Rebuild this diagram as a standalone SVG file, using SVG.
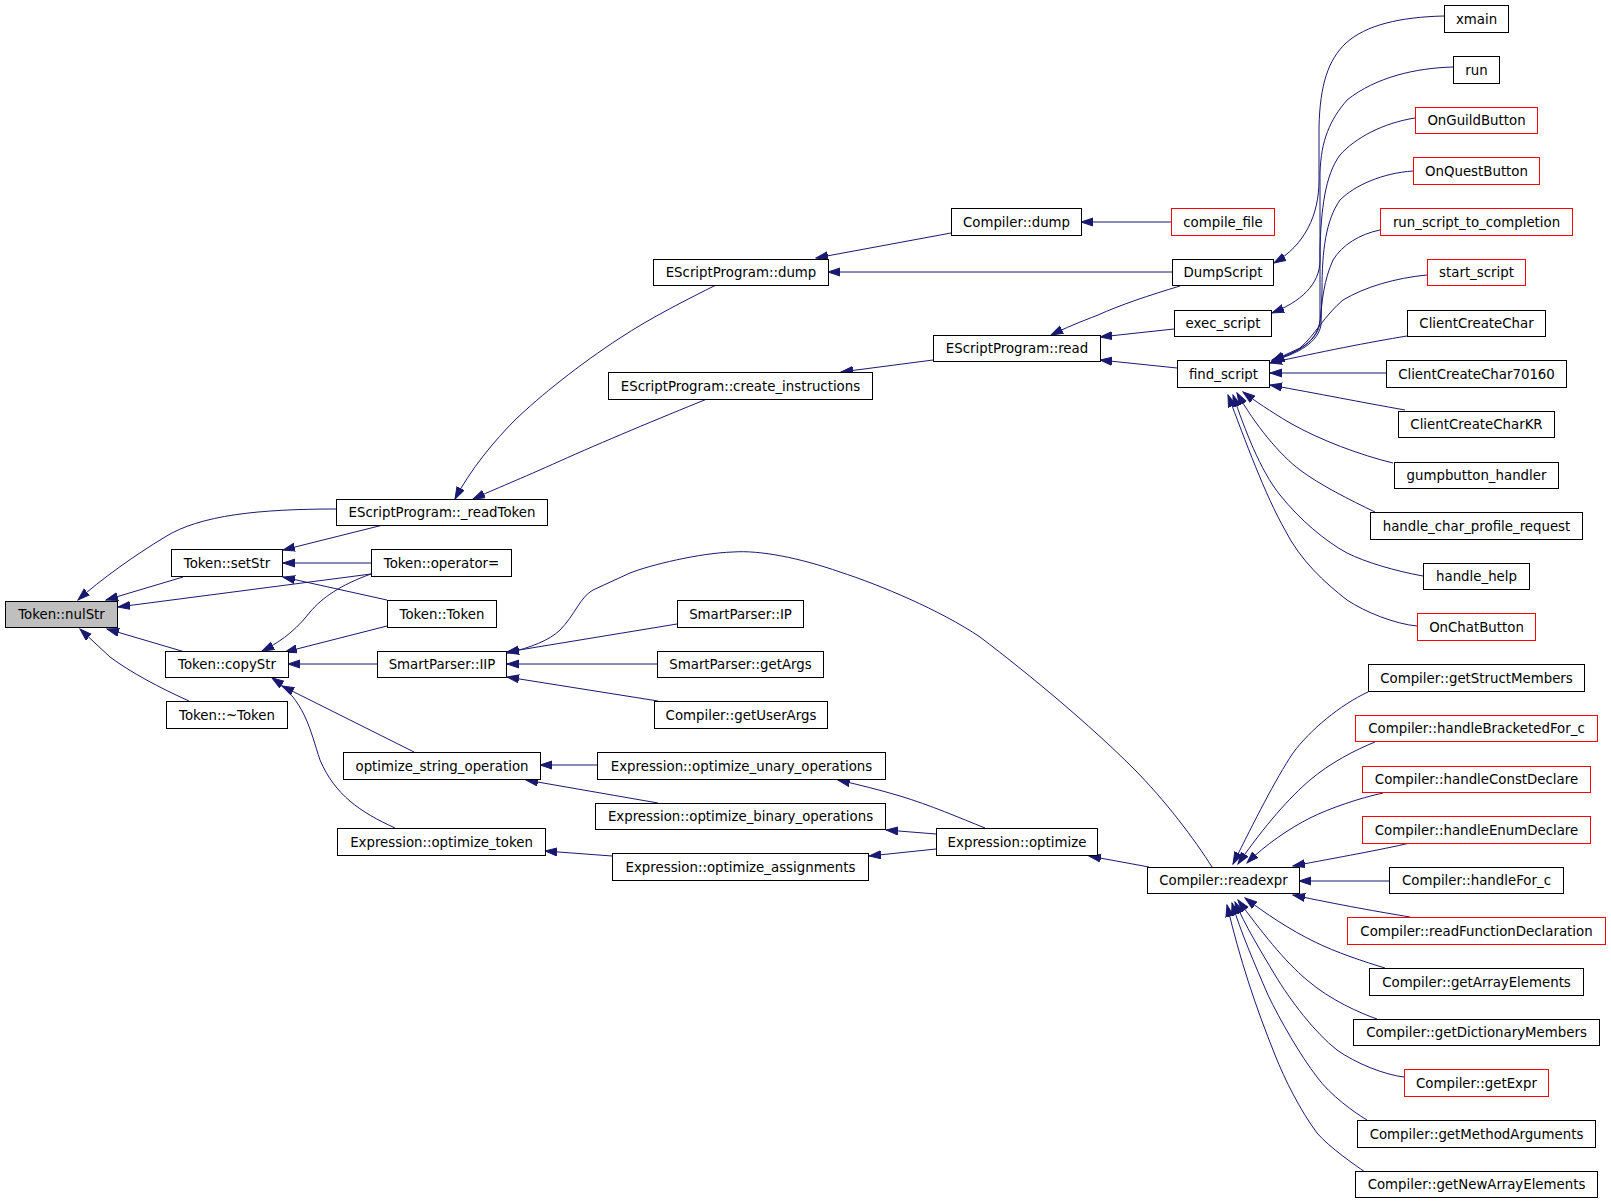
<svg xmlns="http://www.w3.org/2000/svg" width="1611" height="1203" viewBox="0 0 1611 1203">
<style>
.n rect{fill:#ffffff;stroke:#000000;stroke-width:1}
.r rect{stroke:#ff0000}
.g rect{fill:#bfbfbf}
.n text{font-family:"DejaVu Sans",Verdana,sans-serif;font-size:13.33px;text-anchor:middle;fill:#000000}
#edges path{fill:none;stroke:#191970;stroke-width:1;marker-end:url(#ah)}
</style>
<defs>
<marker id="ah" markerUnits="userSpaceOnUse" markerWidth="13" markerHeight="10" refX="12" refY="4.5" orient="auto">
<path d="M0,0.5 L12,4.5 L0,8.5 z" fill="#191970" stroke="#191970" stroke-width="1"/>
</marker>
</defs>
<rect width="1611" height="1203" fill="#ffffff"/>
<g id="edges">
<path d="M336,509 C260,509 200,515 165,537 C135,555 100,580 78,600"/>
<path d="M183,577 L106,600"/>
<path d="M371,574 L118,607"/>
<path d="M185,652 L107,629"/>
<path d="M189,701 C160,688 130,672 110,657 L80,629"/>
<path d="M383,525 L283,550"/>
<path d="M371,563 L283,563"/>
<path d="M387,600 L283,577"/>
<path d="M371,574 C340,585 322,598 310,612 C300,625 285,640 262,651"/>
<path d="M387,626 L285,652"/>
<path d="M377,664 L288,664"/>
<path d="M414,752 L282,686"/>
<path d="M395,828 C360,812 335,795 320,760 C310,730 305,700 272,678"/>
<path d="M716,285 C690,298 650,318 620,338 C580,364 540,396 515,420 C495,440 470,470 455,499"/>
<path d="M707,399 C660,418 600,443 560,461 C520,479 495,489 473,499"/>
<path d="M951,233 L816,258"/>
<path d="M1172,272 L828,272"/>
<path d="M1171,222 L1081,222"/>
<path d="M933,360 L841,372"/>
<path d="M1180,286 C1150,295 1120,305 1098,315 C1080,322 1065,328 1051,335"/>
<path d="M1174,329 L1100,337"/>
<path d="M1177,368 L1100,360"/>
<path d="M1444,16 C1400,17 1366,25 1346,43 C1328,60 1320,85 1319,127 L1319,180 C1319,215 1305,245 1274,263"/>
<path d="M1453,67 C1416,68 1376,77 1347,100 C1330,120 1321,140 1320,173 L1320,260 C1320,285 1300,302 1272,313"/>
<path d="M1415,118 C1383,123 1355,138 1340,155 C1325,175 1321,210 1320,250 L1320,320 C1318,340 1300,352 1272,360"/>
<path d="M1413,171 C1383,173 1355,185 1340,200 C1326,220 1322,250 1322,290 L1321,325 C1318,342 1300,353 1272,361"/>
<path d="M1380,230 C1360,234 1342,245 1333,260 C1324,280 1322,300 1320,322 C1318,340 1300,352 1272,361"/>
<path d="M1427,275 C1395,278 1365,287 1343,300 C1325,315 1315,335 1300,348 L1272,361"/>
<path d="M1407,336 C1370,342 1320,352 1270,363"/>
<path d="M1386,373 L1270,373"/>
<path d="M1405,410 C1360,402 1320,394 1270,385"/>
<path d="M1393,463 C1360,455 1320,440 1290,423 C1270,411 1255,401 1243,392"/>
<path d="M1375,512 C1350,500 1320,485 1300,470 C1280,455 1255,425 1237,393"/>
<path d="M1423,576 C1395,571 1365,562 1347,553 C1325,541 1300,520 1280,495 C1260,470 1245,430 1233,395"/>
<path d="M1417,626 C1395,624 1365,612 1347,600 C1325,583 1300,560 1285,530 C1265,495 1245,440 1228,395"/>
<path d="M677,624 L507,652"/>
<path d="M657,664 L507,664"/>
<path d="M658,701 L507,677"/>
<path d="M597,765 L540,765"/>
<path d="M658,803 L526,780"/>
<path d="M985,828 C960,818 930,805 900,796 C880,790 860,785 838,780"/>
<path d="M936,834 L886,830"/>
<path d="M936,849 L869,856"/>
<path d="M1149,867 L1089,856"/>
<path d="M612,856 L545,851"/>
<path d="M1212,867 C1195,840 1165,800 1133,768 C1090,725 1030,675 980,637 C940,610 880,585 840,572 C800,558 760,550 733,552 C700,553 650,565 630,573 L593,590 C580,597 575,615 560,630 C550,640 530,648 507,653"/>
<path d="M1368,692 C1340,705 1310,730 1293,753 C1275,780 1255,820 1233,864"/>
<path d="M1375,742 C1355,750 1330,763 1310,780 C1290,797 1265,825 1238,864"/>
<path d="M1383,793 C1360,798 1330,808 1310,818 C1290,828 1265,845 1247,863"/>
<path d="M1410,843 C1380,850 1340,857 1293,866"/>
<path d="M1389,881 L1299,881"/>
<path d="M1410,917 C1380,912 1340,905 1293,895"/>
<path d="M1385,968 C1365,962 1335,952 1315,942 C1290,930 1265,913 1245,898"/>
<path d="M1377,1019 C1360,1013 1330,1000 1307,980 C1285,962 1260,930 1238,900"/>
<path d="M1404,1077 C1385,1075 1355,1063 1337,1050 C1315,1033 1290,1000 1275,975 C1260,950 1245,925 1235,902"/>
<path d="M1367,1120 C1355,1113 1330,1095 1317,1077 C1300,1055 1280,1020 1268,995 C1255,965 1240,930 1232,903"/>
<path d="M1365,1172 C1355,1165 1330,1148 1317,1133 C1300,1110 1285,1080 1275,1055 C1255,1005 1240,960 1227,905"/>
</g>
<g id="n-nulStr" class="n g"><rect x="5.5" y="601.5" width="112" height="26"/><text x="61.5" y="619.3">Token::nulStr</text></g>
<g id="n-setStr" class="n"><rect x="171.5" y="549.5" width="111" height="27"/><text x="227" y="567.8">Token::setStr</text></g>
<g id="n-copyStr" class="n"><rect x="165.5" y="651.5" width="123" height="26"/><text x="227" y="669.3">Token::copyStr</text></g>
<g id="n-dtor" class="n"><rect x="166.5" y="701.5" width="121" height="27"/><text x="227" y="719.8">Token::~Token</text></g>
<g id="n-readToken" class="n"><rect x="336.5" y="499.5" width="211" height="26"/><text x="442" y="517.3">EScriptProgram::_readToken</text></g>
<g id="n-opeq" class="n"><rect x="371.5" y="549.5" width="140" height="27"/><text x="441.5" y="567.8">Token::operator=</text></g>
<g id="n-Token" class="n"><rect x="387.5" y="600.5" width="109" height="27"/><text x="442" y="618.8">Token::Token</text></g>
<g id="n-IIP" class="n"><rect x="377.5" y="651.5" width="129" height="26"/><text x="442" y="669.3">SmartParser::IIP</text></g>
<g id="n-optstr" class="n"><rect x="343.5" y="752.5" width="197" height="27"/><text x="442" y="770.8">optimize_string_operation</text></g>
<g id="n-opttok" class="n"><rect x="337.5" y="828.5" width="208" height="27"/><text x="441.5" y="846.8">Expression::optimize_token</text></g>
<g id="n-epdump" class="n"><rect x="653.5" y="259.5" width="175" height="26"/><text x="741" y="277.3">EScriptProgram::dump</text></g>
<g id="n-createins" class="n"><rect x="608.5" y="372.5" width="264" height="27"/><text x="740.5" y="390.8">EScriptProgram::create_instructions</text></g>
<g id="n-IP" class="n"><rect x="677.5" y="600.5" width="126" height="27"/><text x="740.5" y="618.8">SmartParser::IP</text></g>
<g id="n-getArgs" class="n"><rect x="657.5" y="651.5" width="166" height="26"/><text x="740.5" y="669.3">SmartParser::getArgs</text></g>
<g id="n-getUserArgs" class="n"><rect x="654.5" y="701.5" width="173" height="27"/><text x="741" y="719.8">Compiler::getUserArgs</text></g>
<g id="n-optunary" class="n"><rect x="597.5" y="752.5" width="288" height="27"/><text x="741.5" y="770.8">Expression::optimize_unary_operations</text></g>
<g id="n-optbinary" class="n"><rect x="595.5" y="803.5" width="290" height="26"/><text x="740.5" y="821.3">Expression::optimize_binary_operations</text></g>
<g id="n-optassign" class="n"><rect x="612.5" y="853.5" width="256" height="27"/><text x="740.5" y="871.8">Expression::optimize_assignments</text></g>
<g id="n-cdump" class="n"><rect x="951.5" y="208.5" width="130" height="27"/><text x="1016.5" y="226.8">Compiler::dump</text></g>
<g id="n-epread" class="n"><rect x="933.5" y="335.5" width="167" height="26"/><text x="1017" y="353.3">EScriptProgram::read</text></g>
<g id="n-optimize" class="n"><rect x="936.5" y="828.5" width="161" height="27"/><text x="1017" y="846.8">Expression::optimize</text></g>
<g id="n-compile_file" class="n r"><rect x="1171.5" y="208.5" width="103" height="27"/><text x="1223" y="226.8">compile_file</text></g>
<g id="n-DumpScript" class="n"><rect x="1172.5" y="259.5" width="101" height="26"/><text x="1223" y="277.3">DumpScript</text></g>
<g id="n-exec_script" class="n"><rect x="1174.5" y="310.5" width="97" height="26"/><text x="1223" y="328.3">exec_script</text></g>
<g id="n-find_script" class="n"><rect x="1177.5" y="360.5" width="92" height="27"/><text x="1223.5" y="378.8">find_script</text></g>
<g id="n-readexpr" class="n"><rect x="1147.5" y="867.5" width="152" height="26"/><text x="1223.5" y="885.3">Compiler::readexpr</text></g>
<g id="n-xmain" class="n"><rect x="1444.5" y="5.5" width="64" height="27"/><text x="1476.5" y="23.8">xmain</text></g>
<g id="n-run" class="n"><rect x="1453.5" y="56.5" width="46" height="27"/><text x="1476.5" y="74.8">run</text></g>
<g id="n-OnGuildButton" class="n r"><rect x="1415.5" y="107.5" width="122" height="26"/><text x="1476.5" y="125.3">OnGuildButton</text></g>
<g id="n-OnQuestButton" class="n r"><rect x="1413.5" y="157.5" width="126" height="27"/><text x="1476.5" y="175.8">OnQuestButton</text></g>
<g id="n-run_script" class="n r"><rect x="1380.5" y="208.5" width="192" height="27"/><text x="1476.5" y="226.8">run_script_to_completion</text></g>
<g id="n-start_script" class="n r"><rect x="1427.5" y="259.5" width="98" height="26"/><text x="1476.5" y="277.3">start_script</text></g>
<g id="n-ClientCreateChar" class="n"><rect x="1407.5" y="310.5" width="138" height="26"/><text x="1476.5" y="328.3">ClientCreateChar</text></g>
<g id="n-ClientCreateChar70160" class="n"><rect x="1386.5" y="360.5" width="180" height="27"/><text x="1476.5" y="378.8">ClientCreateChar70160</text></g>
<g id="n-ClientCreateCharKR" class="n"><rect x="1398.5" y="411.5" width="156" height="26"/><text x="1476.5" y="429.3">ClientCreateCharKR</text></g>
<g id="n-gumpbutton" class="n"><rect x="1394.5" y="462.5" width="164" height="26"/><text x="1476.5" y="480.3">gumpbutton_handler</text></g>
<g id="n-handle_char" class="n"><rect x="1370.5" y="512.5" width="212" height="27"/><text x="1476.5" y="530.8">handle_char_profile_request</text></g>
<g id="n-handle_help" class="n"><rect x="1423.5" y="563.5" width="106" height="26"/><text x="1476.5" y="581.3">handle_help</text></g>
<g id="n-OnChatButton" class="n r"><rect x="1417.5" y="613.5" width="118" height="27"/><text x="1476.5" y="631.8">OnChatButton</text></g>
<g id="n-getStructMembers" class="n"><rect x="1368.5" y="664.5" width="216" height="27"/><text x="1476.5" y="682.8">Compiler::getStructMembers</text></g>
<g id="n-handleBracketedFor_c" class="n r"><rect x="1355.5" y="715.5" width="242" height="26"/><text x="1476.5" y="733.3">Compiler::handleBracketedFor_c</text></g>
<g id="n-handleConstDeclare" class="n r"><rect x="1362.5" y="766.5" width="228" height="26"/><text x="1476.5" y="784.3">Compiler::handleConstDeclare</text></g>
<g id="n-handleEnumDeclare" class="n r"><rect x="1362.5" y="816.5" width="228" height="27"/><text x="1476.5" y="834.8">Compiler::handleEnumDeclare</text></g>
<g id="n-handleFor_c" class="n"><rect x="1389.5" y="867.5" width="174" height="26"/><text x="1476.5" y="885.3">Compiler::handleFor_c</text></g>
<g id="n-readFunctionDeclaration" class="n r"><rect x="1347.5" y="917.5" width="258" height="27"/><text x="1476.5" y="935.8">Compiler::readFunctionDeclaration</text></g>
<g id="n-getArrayElements" class="n"><rect x="1369.5" y="968.5" width="214" height="27"/><text x="1476.5" y="986.8">Compiler::getArrayElements</text></g>
<g id="n-getDictionaryMembers" class="n"><rect x="1353.5" y="1019.5" width="246" height="26"/><text x="1476.5" y="1037.3">Compiler::getDictionaryMembers</text></g>
<g id="n-getExpr" class="n r"><rect x="1404.5" y="1069.5" width="144" height="27"/><text x="1476.5" y="1087.8">Compiler::getExpr</text></g>
<g id="n-getMethodArguments" class="n"><rect x="1357.5" y="1120.5" width="238" height="27"/><text x="1476.5" y="1138.8">Compiler::getMethodArguments</text></g>
<g id="n-getNewArrayElements" class="n"><rect x="1355.5" y="1171.5" width="242" height="26"/><text x="1476.5" y="1189.3">Compiler::getNewArrayElements</text></g>
</svg>
